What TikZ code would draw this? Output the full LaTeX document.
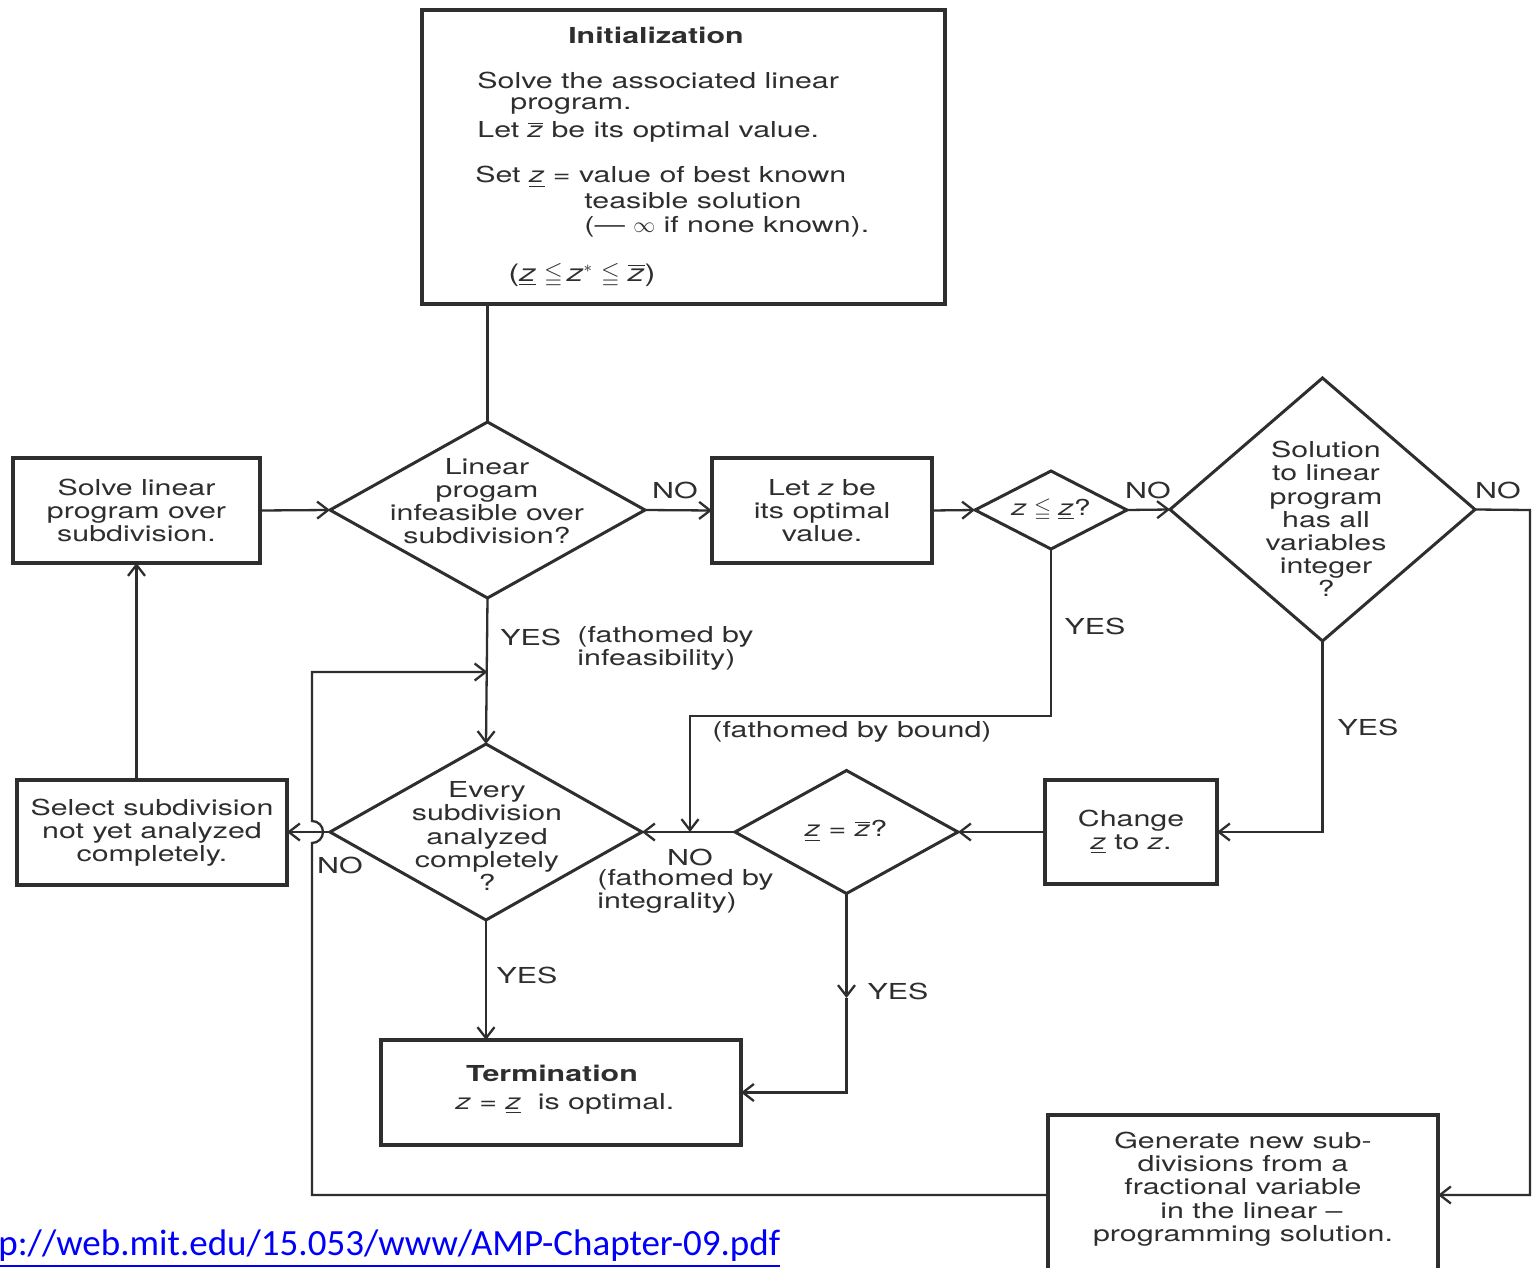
\documentclass[tikz,border=0pt]{standalone}
\usepackage{amssymb}
\usepackage{fontspec}
\setmainfont{TeX Gyre Heros}[FakeStretch=1.38]
\newfontfamily\urlfont{Carlito}
\usetikzlibrary{arrows.meta,shapes.geometric}
\definecolor{ink}{gray}{0.18}
\definecolor{linkblue}{RGB}{0,0,250}
% z, z underlined (lower bound), z overlined (upper bound)
\newcommand{\zit}{\textit{z}}
\newcommand{\zlo}{\underline{\textit{z}}}
\newcommand{\zhi}{$\overline{\mbox{\textit{z}}}$}

\begin{document}
\begin{tikzpicture}[x=0.5pt,y=-0.5pt,
  every node/.style={text=ink, font=\fontsize{11}{11.6}\selectfont},
  box/.style={draw=ink, line width=1.7pt, inner sep=0pt, outer sep=0pt, align=center},
  dia/.style={diamond, draw=ink, line width=1.5pt, inner sep=0pt, outer sep=0pt},
  txt/.style={inner sep=0pt, align=center},
  lbl/.style={inner sep=0pt, anchor=west, align=left},
  bl/.style={inner sep=0pt, anchor=base west},
  conn/.style={draw=ink, line width=1.15pt},
  arr/.style={conn, -{Straight Barb[length=5.5pt,width=8.5pt]}},
]
\useasboundingbox (0,0) rectangle (1532,1268);
\fill[white] (0,0) rectangle (1532,1268);
\clip (0,0) rectangle (1532,1268);

% ---------- boxes ----------
\node[box, minimum width=261.5pt, minimum height=147pt] (init) at (683.5,157) {};
\node[box, minimum width=123.5pt, minimum height=52.5pt] (solve) at (136.5,510.5)
  {Solve linear\\program over\\subdivision.};
\node[box, minimum width=110pt, minimum height=52.5pt] (let) at (822,510.5)
  {Let \zit\ be\\its optimal\\value.};
\node[box, minimum width=135pt, minimum height=52.5pt] (select) at (152,832.5)
  {Select subdivision\\not yet analyzed\\completely.};
\node[box, minimum width=180pt, minimum height=52.5pt] (term) at (561,1092.5) {};
\node[box, minimum width=86pt, minimum height=52pt] (change) at (1131,832)
  {Change\\\zlo\ to \zit.};
\node[box, minimum width=195pt, minimum height=80pt] (gen) at (1243,1195) {};

% ---------- decisions ----------
\node[dia, minimum width=157.5pt, minimum height=88pt] (d1) at (487.5,510) {};
\node[dia, minimum width=76pt, minimum height=39pt] (d2) at (1051,510) {};
\node[dia, minimum width=152.5pt, minimum height=131.5pt] (d3) at (1322.5,509.5) {};
\node[dia, minimum width=156pt, minimum height=88pt] (d4) at (486,832) {};
\node[dia, minimum width=111.5pt, minimum height=61.5pt] (d5) at (846.5,832) {};

% ---------- texts inside shapes ----------
\node[txt, font=\fontsize{11}{11.6}\selectfont\bfseries] (tinit) at (656,35) {Initialization};
\node[bl] (i1) at (477,89) {Solve the associated linear};
\node[bl] (i2) at (510,110) {program.};
\node[bl] (i3) at (477,138) {Let \zhi\ be its optimal value.};
\node[bl] (i4) at (475,183) {Set \zlo\ = value of best known};
\node[bl] (i5) at (584,208) {teasible solution};
\node[bl] (i6) at (584,232) {(--- $\infty$ if none known).};
\node[bl] (i7) at (508,281)
  {\fontsize{12}{12}\selectfont(\zlo\,\,$\leqq$\,\zit$^{*}$\,\,$\leqq$\,\,\zhi)};

\node[txt] (t1) at (487,501) {Linear\\progam\\infeasible over\\subdivision?};
\node[txt] (t2) at (1051,510) {\zit\,\,$\leqq$\,\,\zlo?};
\node[txt] (t3) at (1326,519) {Solution\\to linear\\program\\has all\\variables\\integer\\?};
\node[txt] (t4) at (487,836) {Every\\subdivision\\analyzed\\completely\\?};
\node[txt] (t5) at (846,831) {\zlo\ = \zhi?};
\node[txt, font=\fontsize{11}{11.6}\selectfont\bfseries] (tt1) at (552,1073) {Termination};
\node[txt] (tt2) at (565,1104) {\zit\ = \zlo\ \ is optimal.};
\node[txt] (tg) at (1243,1189)
  {Generate new sub-\\divisions from a\\fractional variable\\\ \ in the linear --\\programming solution.};

% ---------- junction points ----------
\coordinate (jr) at (1530,510);
\coordinate (bt) at (690,716);
\coordinate (ym) at (846.5,998);
\coordinate (hoplo) at (312,843);
\coordinate (lt) at (312,672);

% ---------- connectors ----------
\draw[conn] (d1.north |- init.south) -- (d1.north);
\draw[arr] (solve.east) -- (d1.west);
\draw[arr] (d1.east) -- (let.west);
\draw[arr] (let.east) -- (d2.west);
\draw[arr] (d2.east) -- (d3.west);
\draw[arr] (d3.east) -- (jr) |- (gen.east);
\draw[arr] (d3.south) |- (change.east);
\draw[arr] (change.west) -- (d5.east);
\draw[arr] (d5.west) -- (d4.east);
\draw[arr] (d2.south) |- (bt) -- (bt |- d4.east);
\draw[arr] (d5.south) -- (ym);
\draw[arr] (ym) |- (term.east);
\draw[arr] (d1.south) -- (d4.north);
\draw[arr] (d4.south) -- (d4.south |- term.north);
\draw[arr] (d4.west) -- (d4.west -| select.east);
\draw[arr] (select.north -| solve.south) -- (solve.south);
\draw[arr] (gen.west) -- (gen.west -| hoplo) -- (hoplo)
  arc[start angle=-90, end angle=90, radius=5.5pt] -- (lt) -- (lt -| d1.south);

% ---------- branch labels ----------
\node[txt] (n1) at (675,490) {NO};
\node[txt] (n2) at (1148,490) {NO};
\node[txt] (n3) at (1498,490) {NO};
\node[lbl] (y1) at (500,637) {YES};
\node[lbl] (f1) at (577,648) {(fathomed by\\infeasibility)};
\node[txt] (y2) at (1095,626) {YES};
\node[txt] (f2) at (852,732) {(fathomed by bound)};
\node[txt] (y3) at (1368,727) {YES};
\node[txt] (n4) at (340,865) {NO};
\node[txt] (n5) at (690,857) {NO};
\node[lbl] (f3) at (597,891) {(fathomed by\\integrality)};
\node[txt] (y4) at (527,975) {YES};
\node[txt] (y5) at (898,991) {YES};

% ---------- source reference ----------
\node[inner sep=0pt, anchor=base west, text=linkblue,
      font=\urlfont\fontsize{18.5}{20}\selectfont] (src) at (-2,1255)
  {\underline{p://web.mit.edu/15.053/www/AMP-Chapter-09.pdf}};
\end{tikzpicture}
\end{document}
